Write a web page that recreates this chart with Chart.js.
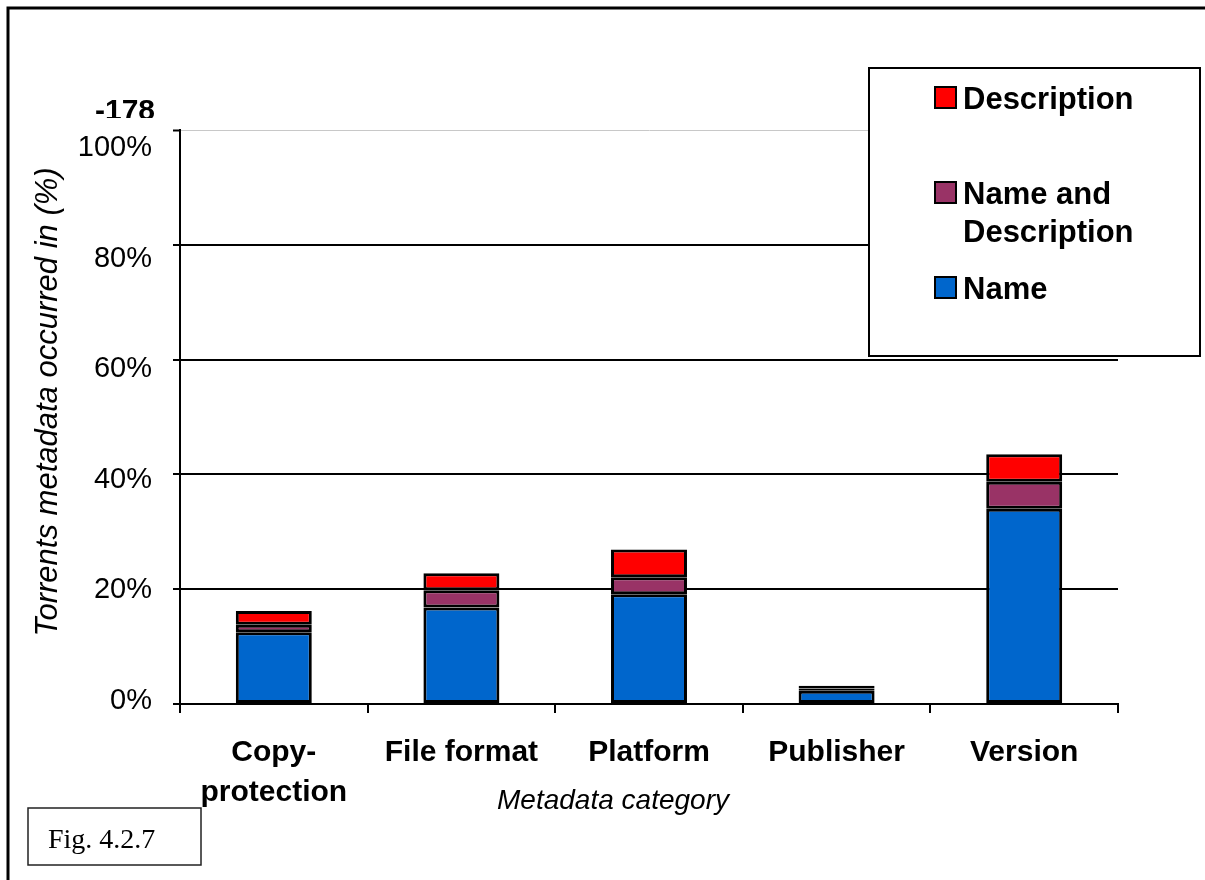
<!DOCTYPE html>
<html>
<head>
<meta charset="utf-8">
<script src="https://cdn.jsdelivr.net/npm/chart.js@4/dist/chart.umd.min.js"></script>
<style>
  html, body { margin: 0; padding: 0; background: #fff; }
  #wrap { position: relative; width: 1205px; height: 880px; }
  canvas { display: block; }
</style>
</head>
<body>
<div id="wrap"><canvas id="c" width="1205" height="880"></canvas></div>
<script>
// ---- data ----
const categories = [["Copy-", "protection"], "File format", "Platform", "Publisher", "Version"];
const nameValues = [12.5, 16.8, 19.1, 2.3, 34.0];
const nameAndDescValues = [1.3, 3.0, 3.0, 0.4, 4.7];
const descriptionValues = [2.4, 3.0, 4.8, 0.5, 4.8];
const yTicks = [0, 20, 40, 60, 80, 100];
const seriesLabels = ["Name", "Name and Description", "Description"];
const seriesColors = ["#0066CC", "#993366", "#FF0000"];

const FONT = "'Liberation Sans', Arial, sans-serif";

// y tick labels in the original sit slightly below their gridlines, drifting more toward the top
const labelShiftPlugin = {
  id: 'labelShift',
  beforeDraw(chart) {
    const s = chart.scales.y;
    const items = s.getLabelItems();
    if (items._shifted) return;
    items.forEach((it, i) => {
      const v = s.ticks[i] ? s.ticks[i].value : 0;
      it.options.translation[1] += -3 + 0.21 * v;
    });
    items._shifted = true;
  }
};

const decorPlugin = {
  id: 'decor',
  afterDraw(chart) {
    const ctx = chart.ctx;
    ctx.save();
    // outer frame (top and left)
    ctx.strokeStyle = '#000';
    ctx.lineWidth = 3;
    ctx.beginPath();
    ctx.moveTo(8, 880); ctx.lineTo(8, 8); ctx.lineTo(1205, 8);
    ctx.stroke();

    // stray label above axis
    ctx.fillStyle = '#000';
    ctx.font = "bold 30px " + FONT;
    ctx.textAlign = 'right';
    ctx.textBaseline = 'alphabetic';
    ctx.save();
    ctx.beginPath(); ctx.rect(0, 80, 300, 38); ctx.clip();
    ctx.fillText('-178', 155, 120);
    ctx.restore();

    // axis titles
    ctx.font = "italic 28px " + FONT;
    ctx.textAlign = 'center';
    ctx.textBaseline = 'middle';
    ctx.fillText('Metadata category', 613, 801);
    ctx.save();
    ctx.translate(48, 402);
    ctx.rotate(-Math.PI / 2);
    ctx.font = "italic 31px " + FONT;
    ctx.fillText('Torrents metadata occurred in (%)', 0, 0);
    ctx.restore();

    // legend box
    ctx.fillStyle = '#fff';
    ctx.fillRect(869, 68, 331, 288);
    ctx.strokeStyle = '#000';
    ctx.lineWidth = 2;
    ctx.strokeRect(869, 68, 331, 288);
    const ds = chart.data.datasets;
    const items = [
      { i: 2, sq: 87, lines: [[109, ds[2].label]] },
      { i: 1, sq: 182, lines: [[204, 'Name and'], [242, 'Description']] },
      { i: 0, sq: 277, lines: [[299, ds[0].label]] }
    ];
    ctx.font = "bold 31px " + FONT;
    ctx.textAlign = 'left';
    ctx.textBaseline = 'alphabetic';
    items.forEach(it => {
      ctx.fillStyle = ds[it.i].backgroundColor;
      ctx.fillRect(935, it.sq, 21, 21);
      ctx.lineWidth = 2;
      ctx.strokeStyle = '#000';
      ctx.strokeRect(935, it.sq, 21, 21);
      ctx.fillStyle = '#000';
      it.lines.forEach(l => ctx.fillText(l[1], 963, l[0]));
    });

    // figure caption box
    ctx.lineWidth = 1.5;
    ctx.strokeStyle = '#222';
    ctx.strokeRect(28, 808, 173, 57);
    ctx.fillStyle = '#000';
    ctx.font = "28px 'Liberation Serif', 'Times New Roman', serif";
    ctx.textAlign = 'left';
    ctx.fillText('Fig. 4.2.7', 48, 848);
    ctx.restore();
  }
};

new Chart(document.getElementById('c'), {
  type: 'bar',
  data: {
    labels: categories,
    datasets: [
      { label: seriesLabels[0], data: nameValues, backgroundColor: seriesColors[0] },
      { label: seriesLabels[1], data: nameAndDescValues, backgroundColor: seriesColors[1] },
      { label: seriesLabels[2], data: descriptionValues, backgroundColor: seriesColors[2] }
    ].map(d => Object.assign(d, {
      borderColor: '#000', borderWidth: 3, borderSkipped: false,
      barPercentage: 0.405, categoryPercentage: 1.0
    }))
  },
  options: {
    responsive: false,
    animation: false,
    devicePixelRatio: 1,
    layout: { padding: { top: 130, right: 87, left: 0, bottom: 0 } },
    plugins: { legend: { display: false }, tooltip: { enabled: false }, title: { display: false } },
    scales: {
      x: {
        stacked: true,
        afterFit: s => { s.height = 176; },
        border: { color: '#000', width: 2 },
        grid: { offset: true, drawOnChartArea: false, color: '#000', lineWidth: 2, tickLength: 9 },
        ticks: {
          color: '#000', padding: 19, maxRotation: 0, autoSkip: false,
          font: { family: FONT, size: 30, weight: 'bold', lineHeight: 1.35 }
        }
      },
      y: {
        stacked: true,
        min: 0, max: 100,
        afterFit: s => { s.width = 180; },
        afterBuildTicks: s => { s.ticks = yTicks.map(v => ({ value: v })); },
        border: { color: '#000', width: 2 },
        grid: {
          color: c => (c.tick && c.tick.value === 100) ? '#c8c8c8' : '#000',
          lineWidth: c => (c.tick && c.tick.value === 100) ? 1 : 2,
          tickColor: '#000', tickWidth: 2, tickLength: 7
        },
        ticks: {
          color: '#000', padding: 21,
          font: { family: FONT, size: 29 },
          callback: v => v + '%'
        }
      }
    }
  },
  plugins: [labelShiftPlugin, decorPlugin]
});
</script>
</body>
</html>
